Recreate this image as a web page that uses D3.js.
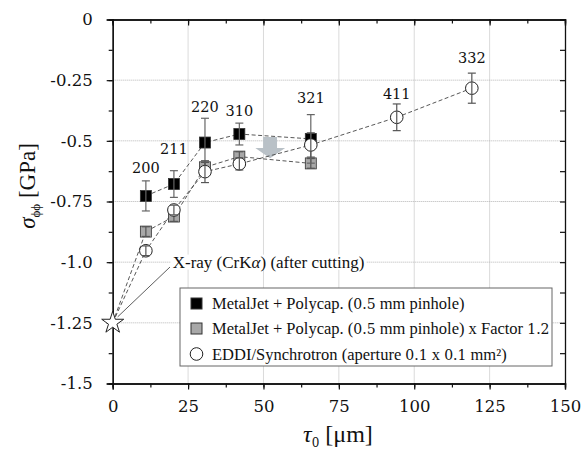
<!DOCTYPE html>
<html>
<head>
<meta charset="utf-8">
<script src="https://cdn.jsdelivr.net/npm/d3@7"></script>
<style>
  body { margin: 0; background: #fff; }
  text { font-family: "Liberation Serif", "DejaVu Serif", serif; fill: #111; }
  .num { font-family: "DejaVu Serif", serif; }
</style>
</head>
<body>
<div id="chart"></div>
<script>
// depth tau0 [um] and stress sigma_phiphi [GPa]
const hkl = ["200", "211", "220", "310", "321", "411", "332"];
const tauMetal = [11, 20.3, 30.6, 42, 65.7];
const metal = [-0.727, -0.678, -0.507, -0.472, -0.492];
const metalErr = [0.062, 0.055, 0.1, 0.045, 0.1];
const metalScaled = [-0.874, -0.812, -0.609, -0.565, -0.593];
const metalScaledErr = [0.02, 0.02, 0.02, 0.02, 0.02];
const tauEddi = [11, 20.3, 30.6, 42, 65.7, 94.2, 119.1];
const eddi = [-0.953, -0.785, -0.627, -0.595, -0.517, -0.403, -0.283];
const eddiErr = [0.02, 0.02, 0.045, 0.025, 0.05, 0.055, 0.062];
const labelSigma = [-0.612, -0.534, -0.36, -0.377, -0.323, -0.307, -0.159];
const xrayTau = 0, xraySigma = -1.25;
const xTicks = [0, 25, 50, 75, 100, 125, 150];
const yTicks = [0, -0.25, -0.5, -0.75, -1.0, -1.25, -1.5];
const yTickLabels = ["0", "-0.25", "-0.5", "-0.75", "-1.0", "-1.25", "-1.5"];
const legendLabels = [
  "MetalJet + Polycap. (0.5 mm pinhole)",
  "MetalJet + Polycap. (0.5 mm pinhole) x Factor 1.2",
  "EDDI/Synchrotron (aperture 0.1 x 0.1 mm\u00b2)"
];

const W = 582, H = 450;
const margin = { top: 19.5, right: 17, bottom: 66.5, left: 112.7 };
const w = W - margin.left - margin.right;
const h = H - margin.top - margin.bottom;

const svg = d3.select("#chart").append("svg")
  .attr("width", W).attr("height", H);
const g = svg.append("g")
  .attr("transform", "translate(" + margin.left + "," + margin.top + ")");

const x = d3.scaleLinear().domain([0, 150]).range([0, w]);
const y = d3.scaleLinear().domain([-1.5, 0]).range([h, 0]);

// grid
g.append("g").selectAll("line").data(xTicks.slice(1, -1)).enter().append("line")
  .attr("x1", d => x(d)).attr("x2", d => x(d)).attr("y1", 0).attr("y2", h)
  .attr("stroke", "#b5b5b5").attr("stroke-dasharray", "1,1");
g.append("g").selectAll("line").data(yTicks.slice(1, -1)).enter().append("line")
  .attr("y1", d => y(d)).attr("y2", d => y(d)).attr("x1", 0).attr("x2", w)
  .attr("stroke", "#b5b5b5").attr("stroke-dasharray", "1,1");

// axes
const xMinor = d3.range(0, 150.1, 12.5);
const yMinor = d3.range(-1.5, 0.01, 0.125);

const bottom = g.append("g").attr("transform", "translate(0," + h + ")")
  .call(d3.axisBottom(x).tickValues(xMinor).tickSize(4).tickFormat(""));
bottom.append("g").call(d3.axisBottom(x).tickValues(xTicks).tickSize(6).tickPadding(11)
  .tickFormat(d3.format("d")));
const left = g.append("g")
  .call(d3.axisLeft(y).tickValues(yMinor).tickSize(4).tickFormat(""));
left.append("g").call(d3.axisLeft(y).tickValues(yTicks).tickSize(6).tickPadding(14)
  .tickFormat((d, i) => yTickLabels[i]));
g.append("g").call(d3.axisTop(x).tickValues(xMinor).tickSize(-4).tickFormat(""));
g.append("g").call(d3.axisTop(x).tickValues(xTicks).tickSize(-6).tickFormat(""));
g.append("g").attr("transform", "translate(" + w + ",0)")
  .call(d3.axisRight(y).tickValues(yMinor).tickSize(-5).tickFormat(""));

g.selectAll(".domain").attr("stroke", "#111").attr("stroke-width", 1.3);
g.selectAll(".tick line").attr("stroke", "#111").attr("stroke-width", 1.2);
g.selectAll(".tick text").attr("class", "num")
  .style("font-size", "16.5px").attr("fill", "#111");

// grey arrow
const arrow = [[49.9, -0.484], [54.5, -0.484], [54.5, -0.53], [57.2, -0.53],
  [52.2, -0.572], [47.3, -0.53], [49.9, -0.53]];
g.append("path")
  .attr("d", d3.line().x(d => x(d[0])).y(d => y(d[1]))(arrow) + "Z")
  .attr("fill", "#b9c1c7");

// connecting dashed lines
const line = d3.line().x(d => x(d[0])).y(d => y(d[1]));
function dashed(pts) {
  g.append("path").attr("d", line(pts)).attr("fill", "none")
    .attr("stroke", "#444").attr("stroke-width", 0.9).attr("stroke-dasharray", "4,2.5");
}
dashed(tauMetal.map((t, i) => [t, metal[i]]));
dashed([[xrayTau, xraySigma]].concat(tauMetal.map((t, i) => [t, metalScaled[i]])));
dashed([[xrayTau, xraySigma]].concat(tauEddi.map((t, i) => [t, eddi[i]])));

// error bars
function errBars(ts, vs, es, color) {
  const eg = g.append("g").attr("stroke", color).attr("stroke-width", 1.2);
  ts.forEach((t, i) => {
    const cx = x(t);
    eg.append("line").attr("x1", cx).attr("x2", cx)
      .attr("y1", y(vs[i] + es[i])).attr("y2", y(vs[i] - es[i]));
    [vs[i] + es[i], vs[i] - es[i]].forEach(v => {
      eg.append("line").attr("x1", cx - 4).attr("x2", cx + 4)
        .attr("y1", y(v)).attr("y2", y(v));
    });
  });
}

const sq = 11, r = 6.3;
function squares(ts, vs, fill) {
  g.append("g").selectAll("rect").data(ts).enter().append("rect")
    .attr("x", d => x(d) - sq / 2).attr("y", (d, i) => y(vs[i]) - sq / 2)
    .attr("width", sq).attr("height", sq)
    .attr("fill", fill).attr("stroke", "#333").attr("stroke-width", 0.8);
}

squares(tauMetal, metalScaled, "#a8a8a8");
errBars(tauMetal, metalScaled, metalScaledErr, "#555");
squares(tauMetal, metal, "#000");
errBars(tauMetal, metal, metalErr, "#666");
g.append("g").selectAll("circle").data(tauEddi).enter().append("circle")
  .attr("cx", d => x(d)).attr("cy", (d, i) => y(eddi[i])).attr("r", r)
  .attr("fill", "#fff").attr("stroke", "#222").attr("stroke-width", 1);
errBars(tauEddi, eddi, eddiErr, "#555");

// x-ray star
const star = d3.symbol().type(d3.symbolStar).size(150);
g.append("path").attr("d", star())
  .attr("transform", "translate(" + x(xrayTau) + "," + y(xraySigma) + ")")
  .attr("fill", "#fff").attr("stroke", "#222").attr("stroke-width", 1);

// reflection labels
g.append("g").selectAll("text").data(hkl).enter().append("text")
  .attr("class", "num")
  .attr("x", (d, i) => x(tauEddi[i])).attr("y", (d, i) => y(labelSigma[i]))
  .attr("text-anchor", "middle").attr("dy", "0.35em")
  .style("font-size", "14.5px").text(d => d);

// x-ray annotation
g.append("line").attr("x1", x(xrayTau) + 5).attr("y1", y(xraySigma) - 6)
  .attr("x2", x(19)).attr("y2", y(-1.02))
  .attr("stroke", "#333").attr("stroke-width", 0.8);
const annBg = g.append("rect").attr("fill", "#fff");
const ann = g.append("text").attr("x", x(19.9)).attr("y", y(-1.0)).attr("dy", "0.32em")
  .style("font-size", "17px").text("X-ray (CrK");
ann.append("tspan").style("font-style", "italic").text("\u03b1");
ann.append("tspan").text(") (after cutting)");
const bb = ann.node().getBBox();
annBg.attr("x", bb.x - 2).attr("y", bb.y + 2)
  .attr("width", bb.width + 4).attr("height", bb.height - 4);

// text with digit runs set in the serif that has real serif digits
function mixed(sel, str, numSize) {
  str.split(/([0-9][0-9.]*)/).filter(s => s.length).forEach(part => {
    const t = sel.append("tspan").text(part);
    if (/^[0-9]/.test(part)) t.attr("class", "num").style("font-size", numSize);
  });
}

// legend
const lg = svg.append("g").attr("transform", "translate(180,288)");
lg.append("rect").attr("width", 372).attr("height", 78)
  .attr("fill", "#fff").attr("stroke", "#666").attr("stroke-width", 1);
const rowsY = [15.5, 40.5, 66];
lg.append("rect").attr("x", 11).attr("y", rowsY[0] - 5.5).attr("width", sq).attr("height", sq)
  .attr("fill", "#000").attr("stroke", "#333");
lg.append("rect").attr("x", 11).attr("y", rowsY[1] - 5.5).attr("width", sq).attr("height", sq)
  .attr("fill", "#a8a8a8").attr("stroke", "#333");
lg.append("circle").attr("cx", 16.5).attr("cy", rowsY[2]).attr("r", r)
  .attr("fill", "#fff").attr("stroke", "#222");
lg.selectAll("text.lab").data(legendLabels).enter().append("text")
  .attr("class", "lab")
  .attr("x", 32).attr("y", (d, i) => rowsY[i]).attr("dy", "0.35em")
  .style("font-size", "16.5px")
  .each(function(d) { mixed(d3.select(this), d, "14px"); });

// axis titles
const yl = svg.append("text")
  .attr("transform", "translate(35,186) rotate(-90)")
  .attr("text-anchor", "middle").style("font-size", "23px");
yl.append("tspan").style("font-style", "italic").text("\u03c3");
yl.append("tspan").attr("dy", 5).style("font-size", "13px").text("\u03d5\u03d5");
yl.append("tspan").attr("dy", -5).text(" [GPa]");

const xl = svg.append("text").attr("x", 338).attr("y", 442)
  .attr("text-anchor", "middle").style("font-size", "24px");
xl.append("tspan").style("font-style", "italic").text("\u03c4");
xl.append("tspan").attr("dy", 5).attr("class", "num").style("font-size", "12px").text("0");
xl.append("tspan").attr("dy", -5).text(" [\u03bcm]");
</script>
</body>
</html>
